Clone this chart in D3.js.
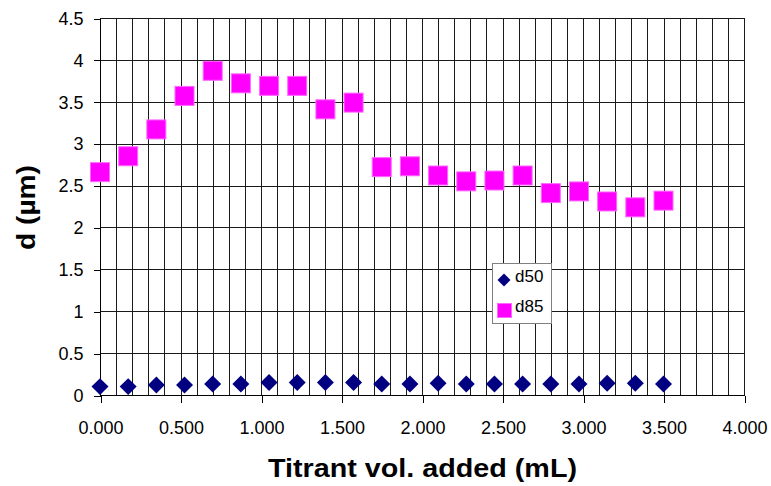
<!DOCTYPE html>
<html>
<head>
<meta charset="utf-8">
<script src="https://cdn.jsdelivr.net/npm/d3@7"></script>
<style>
  body { margin: 0; background: #fff; }
  svg { display: block; font-family: "Liberation Sans", Arial, sans-serif; }
</style>
</head>
<body>
<div id="chart"></div>
<script>
// titrant volume (mL) for each measurement
const titrant = [0, 0.175, 0.35, 0.525, 0.7, 0.875, 1.05, 1.225, 1.4, 1.575, 1.75,
                 1.925, 2.1, 2.275, 2.45, 2.625, 2.8, 2.975, 3.15, 3.325, 3.5];
// d50 and d85 particle size (um)
const d50 = [0.10, 0.10, 0.12, 0.12, 0.13, 0.13, 0.15, 0.15, 0.15, 0.15, 0.13,
             0.13, 0.14, 0.13, 0.13, 0.13, 0.13, 0.13, 0.14, 0.14, 0.13];
const d85 = [2.66, 2.85, 3.17, 3.57, 3.87, 3.72, 3.69, 3.69, 3.41, 3.49, 2.72,
             2.73, 2.62, 2.55, 2.56, 2.62, 2.41, 2.43, 2.31, 2.24, 2.32];
const xTicks = [0, 0.5, 1, 1.5, 2, 2.5, 3, 3.5, 4];
const yTicks = [0, 0.5, 1, 1.5, 2, 2.5, 3, 3.5, 4, 4.5];

const W = 771, H = 486;
const svg = d3.select('#chart').append('svg')
    .attr('width', W)
    .attr('height', H);

const x = d3.scaleLinear().domain([0, 4]).range([100, 744]);
const y = d3.scaleLinear().domain([0, 4.5]).range([395, 18]);

// minor vertical gridlines every 0.1
const grid = svg.append('g').attr('shape-rendering', 'crispEdges');
grid.selectAll('line.v')
    .data(d3.range(1, 41).map(i => i / 10))
    .enter().append('line')
    .attr('class', 'v')
    .attr('x1', d => Math.round(x(d)) + 0.5)
    .attr('x2', d => Math.round(x(d)) + 0.5)
    .attr('y1', y(4.5))
    .attr('y2', y(0))
    .attr('stroke', '#1a1a1a');
// horizontal gridlines
grid.selectAll('line.h')
    .data(yTicks.slice(1))
    .enter().append('line')
    .attr('class', 'h')
    .attr('x1', x(0))
    .attr('x2', x(4))
    .attr('y1', d => Math.round(y(d)) + 0.5)
    .attr('y2', d => Math.round(y(d)) + 0.5)
    .attr('stroke', '#1a1a1a');

// axes
const xAxis = svg.append('g')
    .attr('transform', `translate(0.5,${Math.round(y(0)) + 0.5})`)
    .call(d3.axisBottom(x).tickValues(xTicks).tickFormat(d3.format('.3f')).tickSize(7).tickPadding(19))
    .attr('shape-rendering', 'crispEdges');
xAxis.select('.domain').attr('d', `M${x(0)},0H${x(4)}`);

const yAxis = svg.append('g')
    .attr('transform', `translate(${Math.round(x(0)) + 0.5},0.5)`)
    .call(d3.axisLeft(y).tickValues(yTicks).tickFormat(d => d3.format('')(d)).tickSize(7).tickPadding(10))
    .attr('shape-rendering', 'crispEdges');
yAxis.select('.domain').attr('d', `M0,${y(4.5)}V${y(0)}`);

svg.selectAll('.tick text')
    .attr('font-size', 18)
    .attr('fill', '#000')
    .attr('font-family', '"Liberation Sans", Arial, sans-serif');
svg.selectAll('.tick line, .domain').attr('stroke', '#000');

// axis titles
svg.append('text')
    .attr('x', 268)
    .attr('y', 477)
    .attr('font-size', 25)
    .attr('font-weight', 'bold')
    .attr('textLength', 309)
    .attr('lengthAdjust', 'spacingAndGlyphs')
    .text('Titrant vol. added (mL)');

svg.append('text')
    .attr('transform', `translate(35,250) rotate(-90)`)
    .attr('font-size', 26)
    .attr('font-weight', 'bold')
    .attr('textLength', 85)
    .attr('lengthAdjust', 'spacingAndGlyphs')
    .text('d (\u00b5m)');

// markers
const diamond = d3.symbol(d3.symbolSquare, 144);
const pts = titrant.map((t, i) => ({ t, a: d50[i], b: d85[i] }));

svg.append('g').selectAll('rect')
    .data(pts)
    .enter().append('rect')
    .attr('x', d => x(d.t) - 9.5)
    .attr('y', d => y(d.b) - 9.5)
    .attr('width', 19)
    .attr('height', 19)
    .attr('fill', '#ff00ff')
    .attr('stroke', '#ff66ff')
    .attr('stroke-width', 1);

svg.append('g').selectAll('path')
    .data(pts)
    .enter().append('path')
    .attr('d', diamond)
    .attr('transform', d => `translate(${x(d.t)},${y(d.a)}) rotate(45)`)
    .attr('fill', '#000080');

// legend
const legend = svg.append('g').attr('transform', 'translate(492,263)');
legend.append('rect')
    .attr('x', 0.5).attr('y', 0.5)
    .attr('width', 59).attr('height', 60)
    .attr('fill', '#fff')
    .attr('stroke', '#808080');
legend.append('path')
    .attr('d', d3.symbol(d3.symbolSquare, 85))
    .attr('transform', 'translate(12,17) rotate(45)')
    .attr('fill', '#000080');
legend.append('rect')
    .attr('x', 5.5).attr('y', 40.5)
    .attr('width', 14).attr('height', 14)
    .attr('fill', '#ff00ff')
    .attr('stroke', '#ff66ff');
legend.append('text')
    .attr('x', 23).attr('y', 19)
    .attr('font-size', 17)
    .text('d50');
legend.append('text')
    .attr('x', 23).attr('y', 49)
    .attr('font-size', 17)
    .text('d85');
</script>
</body>
</html>
